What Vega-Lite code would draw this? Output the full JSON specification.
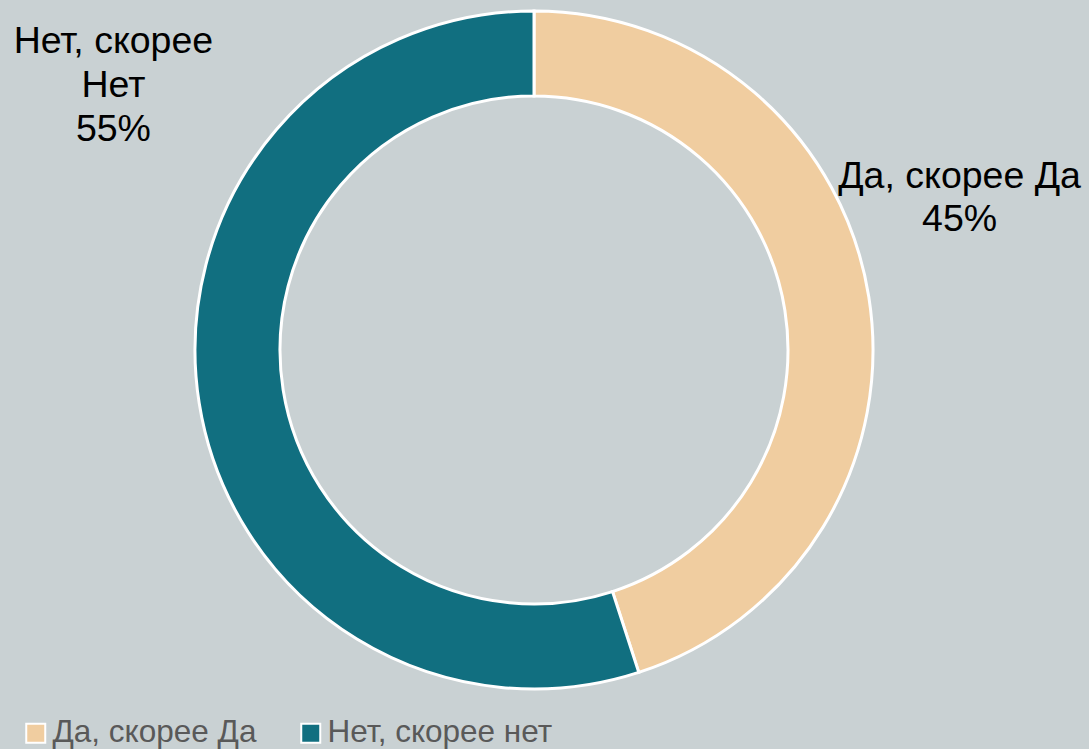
{
  "$schema": "https://vega.github.io/schema/vega-lite/v6.json",
  "width": 1068,
  "height": 700,
  "autosize": {"type": "none"},
  "padding": {"left": 0, "top": 0, "right": 21, "bottom": 49},
  "background": "#C9D1D3",
  "config": {"view": {"stroke": null}, "font": "Liberation Sans"},
  "data": {
    "values": [
      {"cat": "Да, скорее Да", "value": 45, "label": ["Да, скорее Да", "45%"]},
      {"cat": "Нет, скорее нет", "value": 55, "label": ["Нет, скорее", "Нет", "55%"]}
    ]
  },
  "encoding": {
    "theta": {"field": "value", "type": "quantitative", "stack": true}
  },
  "layer": [
    {
      "mark": {"type": "arc", "outerRadius": 339, "innerRadius": 254, "stroke": "white", "strokeWidth": 3},
      "encoding": {
        "color": {
          "field": "cat",
          "type": "nominal",
          "scale": {"domain": ["Да, скорее Да", "Нет, скорее нет"], "range": ["#F0CDA0", "#116F80"]},
          "legend": {
            "title": null,
            "orient": "none",
            "direction": "horizontal",
            "legendX": 20,
            "legendY": 717,
            "symbolType": "square",
            "symbolSize": 361,
            "symbolStrokeColor": "white",
            "symbolStrokeWidth": 2,
            "labelFont": "Liberation Sans",
            "labelFontSize": 31.5,
            "labelColor": "#595959",
            "labelOffset": 1,
            "columnPadding": 38,
            "labelLimit": 400
          }
        }
      }
    },
    {
      "mark": {"type": "text", "radius": 440, "dx": -9, "dy": -104, "fontSize": 37.5, "lineHeight": 43, "color": "black", "align": "center", "baseline": "middle"},
      "encoding": {
        "detail": {"field": "cat"},
        "text": {"condition": {"test": "datum.cat === 'Да, скорее Да'", "field": "label"}, "value": ""}
      }
    },
    {
      "mark": {"type": "text", "radius": 440, "dx": 14, "dy": -377, "fontSize": 37.5, "lineHeight": 44, "color": "black", "align": "center", "baseline": "middle"},
      "encoding": {
        "detail": {"field": "cat"},
        "text": {"condition": {"test": "datum.cat === 'Нет, скорее нет'", "field": "label"}, "value": ""}
      }
    }
  ]
}
